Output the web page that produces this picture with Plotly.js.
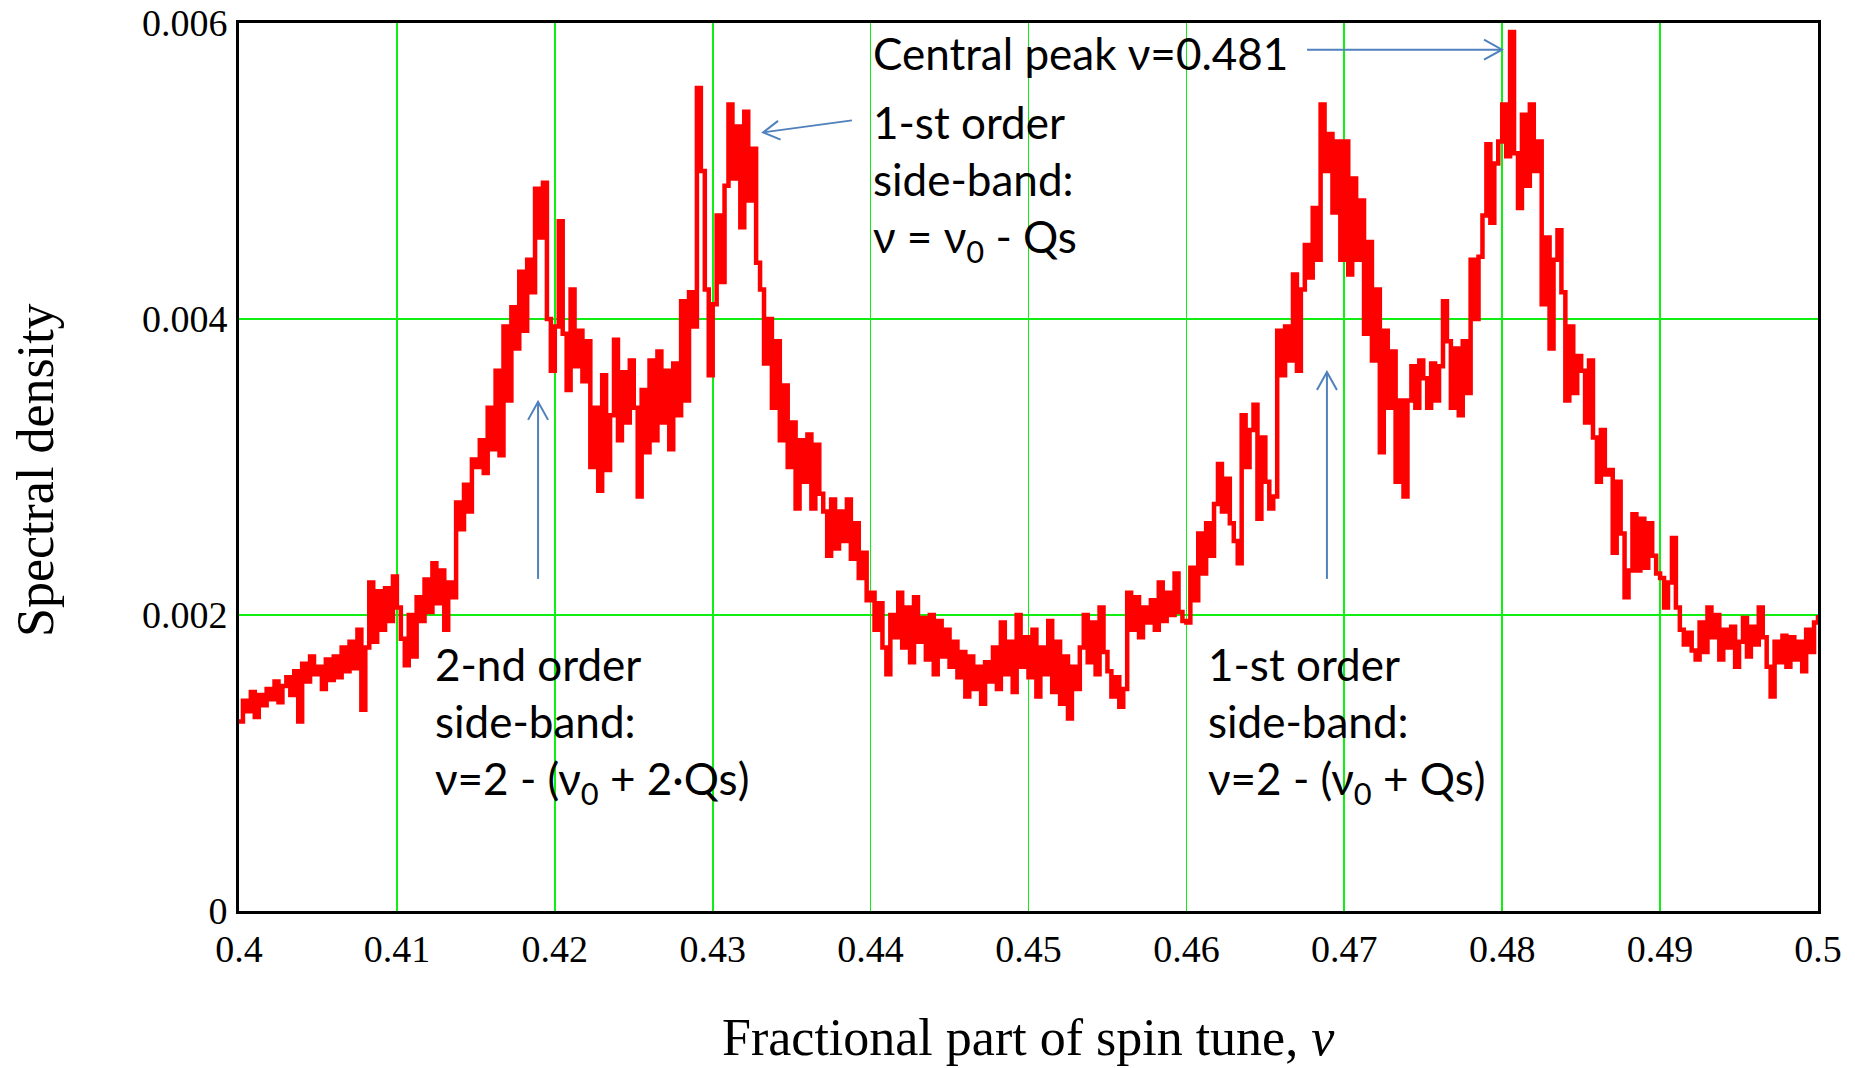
<!DOCTYPE html>
<html>
<head>
<meta charset="utf-8">
<script src="https://cdn.plot.ly/plotly-3.0.1.min.js"></script>
<style>
html, body { margin: 0; padding: 0; background: #ffffff; }
#chart { width: 1855px; height: 1068px; }
</style>
</head>
<body>
<div id="chart"></div>
<script>
// Sampling of the spectrum: first tune value and spacing between samples
const tuneStart = 0.4;
const tuneStep = 0.00025;

// Spectral density, one value per sample
const spectralDensity = [
  0.00128, 0.00142, 0.00135, 0.00148, 0.00131, 0.00146, 0.00139, 0.00150, 0.00143, 0.00155,
  0.00141, 0.00152, 0.00158, 0.00146, 0.00162, 0.00128, 0.00167, 0.00155, 0.00172, 0.00160,
  0.00165, 0.00150, 0.00170, 0.00156, 0.00172, 0.00158, 0.00178, 0.00162, 0.00182, 0.00164,
  0.00190, 0.00136, 0.00178, 0.00222, 0.00182, 0.00216, 0.00190, 0.00218, 0.00196, 0.00226,
  0.00205, 0.00184, 0.00166, 0.00200, 0.00172, 0.00212, 0.00196, 0.00224, 0.00202, 0.00235,
  0.00208, 0.00230, 0.00190, 0.00222, 0.00212, 0.00276, 0.00258, 0.00288, 0.00270, 0.00305,
  0.00300, 0.00318, 0.00296, 0.00340, 0.00312, 0.00365, 0.00308, 0.00395, 0.00345, 0.00408,
  0.00380, 0.00432, 0.00392, 0.00440, 0.00418, 0.00488, 0.00455, 0.00492, 0.00400, 0.00365,
  0.00395, 0.00466, 0.00390, 0.00352, 0.00420, 0.00368, 0.00392, 0.00358, 0.00385, 0.00300,
  0.00340, 0.00284, 0.00362, 0.00298, 0.00335, 0.00386, 0.00318, 0.00364, 0.00330, 0.00372,
  0.00340, 0.00280, 0.00352, 0.00310, 0.00372, 0.00318, 0.00378, 0.00330, 0.00365, 0.00312,
  0.00370, 0.00335, 0.00412, 0.00345, 0.00418, 0.00395, 0.00556, 0.00500, 0.00420, 0.00362,
  0.00410, 0.00470, 0.00425, 0.00490, 0.00545, 0.00495, 0.00530, 0.00462, 0.00540, 0.00480,
  0.00515, 0.00438, 0.00420, 0.00370, 0.00400, 0.00340, 0.00385, 0.00318, 0.00355, 0.00300,
  0.00330, 0.00272, 0.00318, 0.00290, 0.00322, 0.00272, 0.00315, 0.00282, 0.00270, 0.00240,
  0.00278, 0.00245, 0.00270, 0.00250, 0.00278, 0.00238, 0.00262, 0.00225, 0.00242, 0.00210,
  0.00215, 0.00190, 0.00208, 0.00178, 0.00160, 0.00200, 0.00185, 0.00215, 0.00178, 0.00205,
  0.00168, 0.00212, 0.00182, 0.00198, 0.00170, 0.00200, 0.00160, 0.00196, 0.00172, 0.00190,
  0.00165, 0.00182, 0.00158, 0.00175, 0.00145, 0.00172, 0.00150, 0.00165, 0.00140, 0.00168,
  0.00155, 0.00178, 0.00150, 0.00195, 0.00160, 0.00182, 0.00148, 0.00200, 0.00165, 0.00185,
  0.00158, 0.00190, 0.00145, 0.00178, 0.00160, 0.00196, 0.00148, 0.00182, 0.00140, 0.00172,
  0.00130, 0.00165, 0.00150, 0.00178, 0.00200, 0.00168, 0.00195, 0.00160, 0.00205, 0.00175,
  0.00162, 0.00145, 0.00158, 0.00138, 0.00150, 0.00215, 0.00190, 0.00212, 0.00185, 0.00205,
  0.00195, 0.00210, 0.00190, 0.00222, 0.00196, 0.00215, 0.00200, 0.00228, 0.00202, 0.00196,
  0.00195, 0.00232, 0.00210, 0.00255, 0.00228, 0.00262, 0.00240, 0.00275, 0.00302, 0.00270,
  0.00292, 0.00262, 0.00250, 0.00235, 0.00335, 0.00300, 0.00325, 0.00342, 0.00265, 0.00320,
  0.00290, 0.00272, 0.00280, 0.00392, 0.00362, 0.00395, 0.00372, 0.00430, 0.00365, 0.00420,
  0.00450, 0.00428, 0.00475, 0.00440, 0.00545, 0.00500, 0.00525, 0.00472, 0.00520, 0.00440,
  0.00520, 0.00430, 0.00495, 0.00440, 0.00480, 0.00390, 0.00452, 0.00372, 0.00420, 0.00310,
  0.00392, 0.00340, 0.00378, 0.00290, 0.00345, 0.00280, 0.00345, 0.00368, 0.00340, 0.00372,
  0.00360, 0.00340, 0.00370, 0.00345, 0.00368, 0.00412, 0.00385, 0.00340, 0.00380, 0.00335,
  0.00385, 0.00350, 0.00440, 0.00400, 0.00442, 0.00470, 0.00518, 0.00465, 0.00505, 0.00520,
  0.00545, 0.00510, 0.00594, 0.00512, 0.00475, 0.00538, 0.00490, 0.00545, 0.00500, 0.00520,
  0.00410, 0.00455, 0.00380, 0.00440, 0.00460, 0.00418, 0.00345, 0.00395, 0.00350, 0.00375,
  0.00365, 0.00330, 0.00372, 0.00320, 0.00290, 0.00325, 0.00295, 0.00298, 0.00242, 0.00290,
  0.00255, 0.00212, 0.00230, 0.00268, 0.00230, 0.00265, 0.00232, 0.00262, 0.00240, 0.00228,
  0.00225, 0.00205, 0.00222, 0.00252, 0.00205, 0.00190, 0.00180, 0.00188, 0.00176, 0.00170,
  0.00195, 0.00175, 0.00205, 0.00185, 0.00200, 0.00170, 0.00190, 0.00178, 0.00192, 0.00165,
  0.00182, 0.00198, 0.00172, 0.00192, 0.00180, 0.00205, 0.00185, 0.00165, 0.00145, 0.00182,
  0.00168, 0.00186, 0.00165, 0.00185, 0.00170, 0.00182, 0.00162, 0.00190, 0.00175, 0.00195,
  0.00200
];

// Axis ticks
const xTickVals = [0.4, 0.41, 0.42, 0.43, 0.44, 0.45, 0.46, 0.47, 0.48, 0.49, 0.5];
const xTickText = ["0.4", "0.41", "0.42", "0.43", "0.44", "0.45", "0.46", "0.47", "0.48", "0.49", "0.5"];
const yTickVals = [0, 0.002, 0.004, 0.006];
const yTickText = ["0", "0.002", "0.004", "0.006"];

// Axis titles and annotation texts
const xTitle = "Fractional part of spin tune, <i>ν</i>";
const yTitle = "Spectral density";
const noteCentral = "Central peak ν=0.481";
const noteLower1 = "1-st order<br>side-band:<br>ν = ν<sub>0</sub> - Qs";
const noteSecond = "2-nd order<br>side-band:<br>ν=2 - (ν<sub>0</sub> + 2·Qs)";
const noteUpper1 = "1-st order<br>side-band:<br>ν=2 - (ν<sub>0</sub> + Qs)";

const serif = "Liberation Serif, Times New Roman, serif";
const sans = "Lato, Carlito, Calibri, sans-serif";
const arrowBlue = "#4f81bd";
const noteFont = {family: sans, size: 44, color: "#000000"};

const trace = {
  type: "scatter",
  mode: "lines",
  x0: tuneStart,
  dx: tuneStep,
  y: spectralDensity,
  line: {color: "#ff0000", width: 4.5, shape: "hv"},
  hoverinfo: "x+y"
};

const axisCommon = {
  showgrid: true,
  gridcolor: "#11ee11",
  gridwidth: 1.7,
  showline: true,
  mirror: true,
  linecolor: "#000000",
  linewidth: 3,
  zeroline: false,
  ticks: "",
  fixedrange: true,
  ticklabeloverflow: "allow",
  tickfont: {family: serif, size: 38, color: "#000000"}
};

// Arrow helpers: shaft (data coordinates) + open chevron head (pixels around the head)
function arrowShaft(x0, y0, x1, y1) {
  return {type: "line", xref: "x", yref: "y", x0: x0, y0: y0, x1: x1, y1: y1,
          line: {color: arrowBlue, width: 2}, layer: "above"};
}
function arrowHead(x, y, path) {
  return {type: "path", xref: "x", yref: "y", xsizemode: "pixel", ysizemode: "pixel",
          xanchor: x, yanchor: y, path: path,
          line: {color: arrowBlue, width: 2}, fillcolor: "rgba(0,0,0,0)", layer: "above"};
}

const layout = {
  width: 1855,
  height: 1068,
  margin: {l: 239, r: 37, t: 23, b: 157, pad: 0},
  paper_bgcolor: "#ffffff",
  plot_bgcolor: "#ffffff",
  showlegend: false,
  xaxis: Object.assign({}, axisCommon, {
    range: [0.4, 0.5],
    tickmode: "array",
    tickvals: xTickVals,
    ticktext: xTickText,
    ticklabelstandoff: 2
  }),
  yaxis: Object.assign({}, axisCommon, {
    range: [0, 0.006],
    tickmode: "array",
    tickvals: yTickVals,
    ticktext: yTickText,
    ticklabelstandoff: 1
  }),
  shapes: [
    arrowShaft(0.46764, 0.00582, 0.47999, 0.00582),
    arrowHead(0.47999, 0.00582, "M -18 10 L 0 0 L -18 -10"),
    arrowShaft(0.43882, 0.005342, 0.43319, 0.005261),
    arrowHead(0.43319, 0.005261, "M 17.5 -7.2 L 0 0 L 15 11.5"),
    arrowShaft(0.41894, 0.002244, 0.41894, 0.00344),
    arrowHead(0.41894, 0.00344, "M -10 -18 L 0 0 L 10 -18"),
    arrowShaft(0.46890, 0.002244, 0.46890, 0.003642),
    arrowHead(0.46890, 0.003642, "M -10 -18 L 0 0 L 10 -18")
  ],
  annotations: [
    // axis titles
    {xref: "paper", yref: "paper", x: 0.5, y: -0.142, xanchor: "center", yanchor: "middle",
     text: xTitle, showarrow: false, font: {family: serif, size: 52, color: "#000000"}},
    {xref: "paper", yref: "paper", x: -0.129, y: 0.497, xanchor: "center", yanchor: "middle",
     textangle: -90, text: yTitle, showarrow: false, font: {family: serif, size: 52, color: "#000000"}},
    // texts
    {xref: "x", yref: "y", x: 0.44005, y: 0.00580, xanchor: "left", yanchor: "middle",
     text: noteCentral, showarrow: false, align: "left", font: noteFont},
    {xref: "x", yref: "y", x: 0.44005, y: 0.00492, xanchor: "left", yanchor: "middle",
     text: noteLower1, showarrow: false, align: "left", font: noteFont},
    {xref: "x", yref: "y", x: 0.41231, y: 0.001255, xanchor: "left", yanchor: "middle",
     text: noteSecond, showarrow: false, align: "left", font: noteFont},
    {xref: "x", yref: "y", x: 0.46127, y: 0.001255, xanchor: "left", yanchor: "middle",
     text: noteUpper1, showarrow: false, align: "left", font: noteFont}
  ]
};

Plotly.newPlot("chart", [trace], layout, {displayModeBar: false, staticPlot: true});
</script>
</body>
</html>
